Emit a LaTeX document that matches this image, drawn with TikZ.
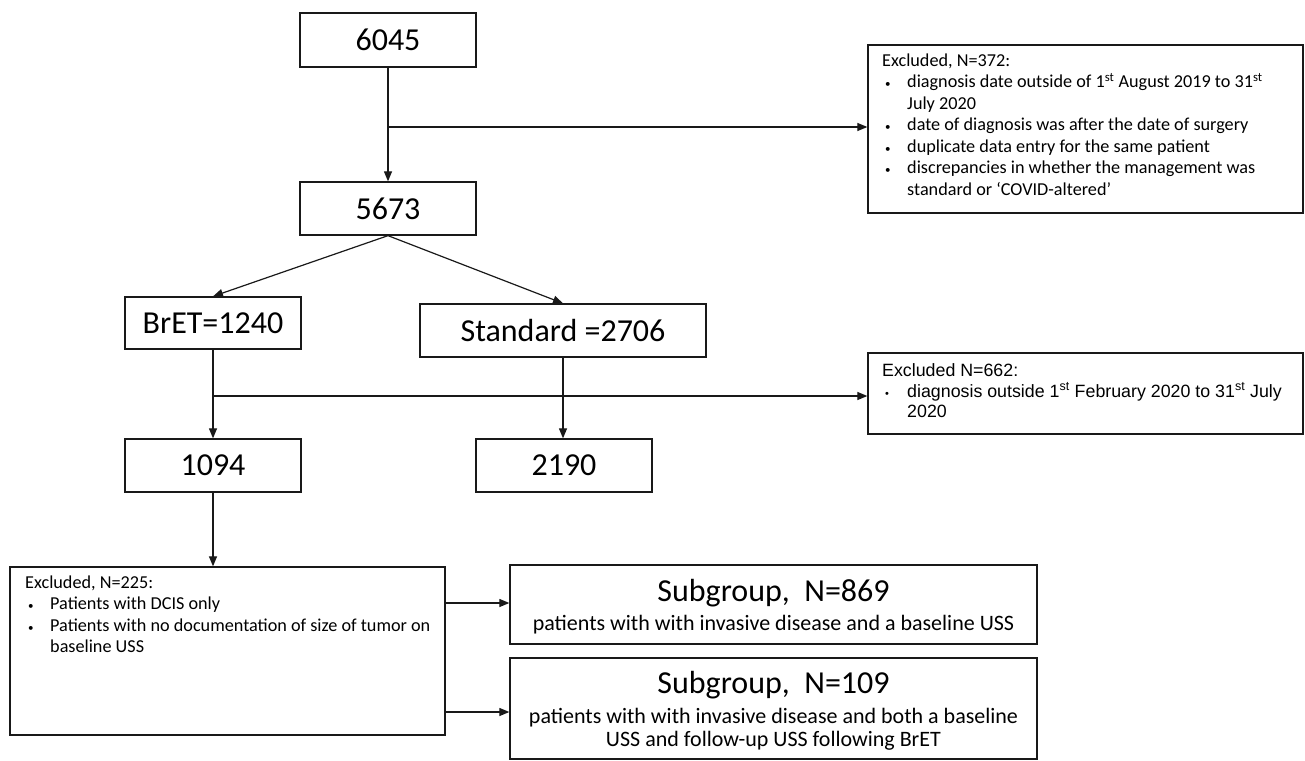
\documentclass[tikz,border=0pt]{standalone}
\usepackage{fontspec}
\setmainfont{Carlito}
\newfontfamily\arialfont{Liberation Sans}
\usetikzlibrary{arrows.meta}
\colorlet{LineaCaja}{black!90}
\tikzset{
    Caja/.style={draw=LineaCaja, line width=1.3pt, inner sep=0pt},
    Texto/.style={inner sep=0pt, anchor=north west, align=left},
    Flecha/.style={draw=LineaCaja, line width=1.2pt, -{Triangle[length=10pt,width=8pt]}},
}
\newcommand{\Numero}{\fontsize{32}{36}\selectfont}
\newcommand{\Lista}{\fontsize{18.2}{21.5}\selectfont}
\newcommand{\Sub}{\fontsize{22}{23}\selectfont}
\newcommand{\Punto}{\hspace{3pt}{\fontsize{11}{11}\selectfont\textbullet}}

\begin{document}
\begin{tikzpicture}[x=1pt, y=-1pt]

    \useasboundingbox (0,0) rectangle (1305,760);

    \node[Caja, minimum width=176pt, minimum height=54pt] (N6045) at (388,40) {\Numero 6045};
    \node[Caja, minimum width=176pt, minimum height=53pt] (N5673) at (388,208.5) {\Numero 5673};
    \node[Caja, minimum width=176pt, minimum height=52pt] (BrET) at (213,323) {\Numero BrET=1240};
    \node[Caja, minimum width=286pt, minimum height=53pt] (Estandar) at (563,330.5) {\Numero Standard =2706};
    \node[Caja, minimum width=176pt, minimum height=53pt] (N1094) at (213,465.5) {\Numero 1094};
    \node[Caja, minimum width=176pt, minimum height=53pt] (N2190) at (564,465.5) {\Numero 2190};

    % Cajas de excluidos
    \node[Caja, minimum width=435pt, minimum height=168pt] (Exc372) at (1085.5,129) {};
    \node[Texto] (T372) at (882,51) {\Lista
        \begin{tabular}{@{}p{25pt}@{}l@{}}
            \multicolumn{2}{@{}l@{}}{Excluded, N=372:} \\
            \Punto & diagnosis date outside of 1\textsuperscript{st} August 2019 to 31\textsuperscript{st} \\
            & July 2020 \\
            \Punto & date of diagnosis was after the date of surgery \\
            \Punto & duplicate data entry for the same patient \\
            \Punto & discrepancies in whether the management was \\
            & standard or ‘COVID-altered’ \\
        \end{tabular}};

    \node[Caja, minimum width=435pt, minimum height=81pt] (Exc662) at (1085.5,393.5) {};
    \node[Texto] (T662) at (882,362) {\arialfont\fontsize{17.8}{20.5}\selectfont
        \begin{tabular}{@{}p{25pt}@{}l@{}}
            \multicolumn{2}{@{}l@{}}{Excluded N=662:} \\
            \Punto & diagnosis outside 1\textsuperscript{st} February 2020 to 31\textsuperscript{st} July \\
            & 2020 \\
        \end{tabular}};

    \node[Caja, minimum width=435pt, minimum height=168pt] (Exc225) at (227.5,651) {};
    \node[Texto] (T225) at (25,573) {\Lista
        \begin{tabular}{@{}p{25pt}@{}l@{}}
            \multicolumn{2}{@{}l@{}}{Excluded, N=225:} \\
            \Punto & Patients with DCIS only \\
            \Punto & Patients with no documentation of size of tumor on \\
            & baseline USS \\
        \end{tabular}};

    % Subgrupos
    \node[Caja, minimum width=527pt, minimum height=79pt] (Sub869) at (773.5,604.5) {};
    \node[inner sep=0pt, font=\Numero] (T869a) at (773.5,593) {Subgroup,\ \ N=869};
    \node[inner sep=0pt, font=\Sub] (T869b) at (773.5,625) {patients with with invasive disease and a baseline USS};

    \node[Caja, minimum width=527pt, minimum height=101pt] (Sub109) at (773.5,708.5) {};
    \node[inner sep=0pt, font=\Numero] (T109a) at (773.5,685) {Subgroup,\ \ N=109};
    \node[inner sep=0pt, align=center, font=\Sub] (T109b) at (773.5,729) {patients with with invasive disease and both a baseline\\ USS and follow-up USS following BrET};

    % Ramas
    \coordinate (R1) at (388,127);
    \coordinate (R2) at (213,396);
    \coordinate (S1) at (445,603);
    \coordinate (S2) at (445,712);

    \draw[Flecha] (N6045) -- (N5673);
    \draw[Flecha] (R1) -- (R1 -| Exc372.west);
    \draw[Flecha] (N5673.south) -- (BrET.north);
    \draw[Flecha] (N5673.south) -- (Estandar.north);
    \draw[Flecha] (BrET) -- (N1094);
    \draw[Flecha] (Estandar.south) -- (Estandar.south |- N2190.north);
    \draw[Flecha] (R2) -- (R2 -| Exc662.west);
    \draw[Flecha] (N1094) -- (N1094.south |- Exc225.north);
    \draw[Flecha] (S1) -- (S1 -| Sub869.west);
    \draw[Flecha] (S2) -- (S2 -| Sub109.west);

\end{tikzpicture}
\end{document}
